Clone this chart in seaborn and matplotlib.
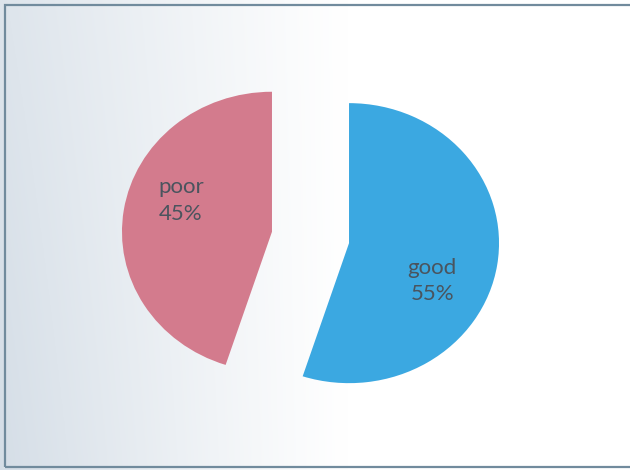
import numpy as np
import matplotlib
matplotlib.use("Agg")
import matplotlib.pyplot as plt
from matplotlib.patches import Rectangle
import seaborn as sns

# Data
categories = ["good", "poor"]
shares = [55, 45]
pct_labels = ["55%", "45%"]

sns.set_theme(style="white")
plt.rcParams["font.family"] = ["Lato", "DejaVu Sans"]

slice_colors = sns.color_palette(["#3BA8E1", "#D37B8D"])

W, H = 630, 470
fig = plt.figure(figsize=(W / 100, H / 100), dpi=100)

# Soft blue-grey backdrop fading to white towards the right
bg = fig.add_axes([0, 0, 1, 1], zorder=0)
xx = np.linspace(0, 1, 300)[None, :]
yy = np.linspace(0, 1, 220)[:, None]
fade = np.clip(1 - xx / 0.55, 0, 1) ** 1.1 * (0.8 + 0.2 * (1 - yy))
left = np.array([0.835, 0.87, 0.905])
white = np.array([1.0, 1.0, 1.0])
img = white[None, None, :] * (1 - fade[..., None]) + left[None, None, :] * fade[..., None]
bg.imshow(img, aspect="auto", extent=[0, 1, 0, 1], origin="lower")
bg.set_axis_off()

# Frame lines on top, left and bottom
frame_color = "#718b9d"
fig.add_artist(Rectangle((4.5 / W, 3 / H), 1.2, 1 - 8 / H, transform=fig.transFigure,
                         fill=False, edgecolor=frame_color, linewidth=1.6))

ax = fig.add_axes([0, 0, 1, 1], zorder=1)
ax.patch.set_alpha(0)
wedges, _ = ax.pie(shares, colors=slice_colors, startangle=90, counterclock=False,
                   explode=[0.26, 0.26], radius=1.0,
                   wedgeprops=dict(linewidth=0))
ax.set_aspect("auto")
ax.set_xlim(-2.07, 2.13)
ax.set_ylim(-1.661, 1.696)
ax.set_axis_off()

# Category labels inside each slice
label_pos = [(0.686, 0.402), (0.287, 0.573)]
for (cx, cy), name, pct in zip(label_pos, categories, pct_labels):
    ax.text(cx, cy, f"{name}\n{pct}", transform=ax.transAxes, ha="center", va="center",
            fontsize=16, color="#4a545e", linespacing=1.4)

fig.savefig("out.png", dpi=100)
